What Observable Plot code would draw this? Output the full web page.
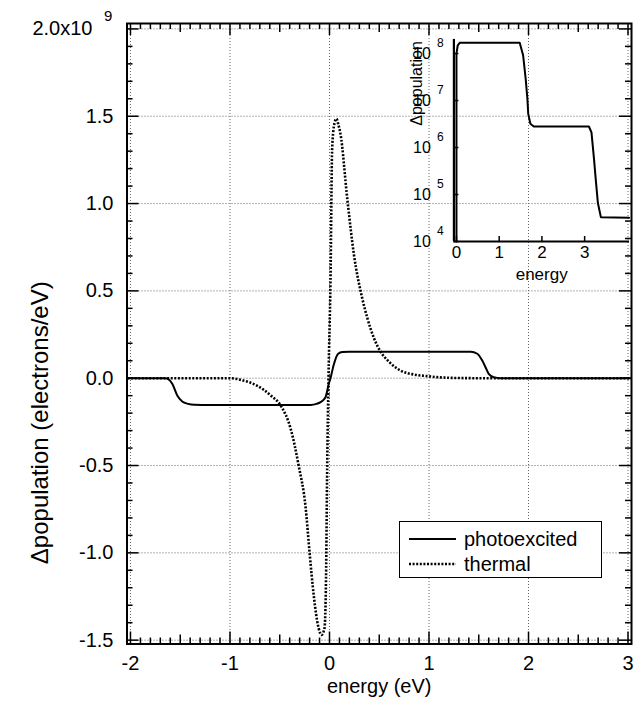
<!DOCTYPE html>
<html>
<head>
<meta charset="utf-8">
<script src="https://cdn.jsdelivr.net/npm/d3@7"></script>
<script src="https://cdn.jsdelivr.net/npm/@observablehq/plot@0.6"></script>
<style>
  html, body { margin: 0; padding: 0; background: #fff; }
  #wrap { position: relative; width: 634px; height: 712px; overflow: hidden; font-family: "Liberation Sans", Arial, Helvetica, sans-serif; }
  #inset { position: absolute; left: 380px; top: 30px; }
  #legend { position: absolute; left: 399px; top: 521px; width: 203px; height: 57px; border: 1.3px solid #000; background: #fff; box-sizing: border-box; }
  #legend svg { position: absolute; left: 0; top: 0; }
</style>
</head>
<body>
<div id="wrap">
  <div id="main"></div>
  <div id="inset"></div>
  <div id="legend"></div>
</div>
<script>
// ---- main chart data ----
const photoEnergy = [-2.03, -1.65, -1.62, -1.58, -1.53, -1.48, -1.42, -1.36, -1.2, -0.19, -0.13, -0.09, -0.04, -0.007, 0.01, 0.045, 0.085, 0.13, 0.2, 1.42, 1.485, 1.535, 1.568, 1.60, 1.65, 1.72, 3.03];
const photoValue  = [0, 0, -0.005, -0.032, -0.099, -0.133, -0.147, -0.152, -0.153, -0.153, -0.147, -0.137, -0.109, -0.032, 0, 0.082, 0.139, 0.150, 0.151, 0.151, 0.14, 0.101, 0.063, 0.025, 0.006, 0, 0];

const thermalEnergy = [-2.03, -1.0, -0.87, -0.73, -0.59, -0.49, -0.39, -0.31, -0.24, -0.20, -0.16, -0.11, -0.08, -0.05, -0.035, -0.023, -0.01, 0.01, 0.027, 0.05, 0.07, 0.09, 0.11, 0.18, 0.245, 0.33, 0.38, 0.45, 0.50, 0.61, 0.71, 0.85, 0.98, 1.08, 1.3, 1.5, 3.03];
const thermalValue  = [0, 0, -0.013, -0.042, -0.099, -0.157, -0.29, -0.5, -0.74, -1.0, -1.235, -1.43, -1.47, -1.43, -1.15, -0.5, 0.0, 0.56, 1.32, 1.46, 1.486, 1.45, 1.40, 1.02, 0.71, 0.455, 0.345, 0.225, 0.165, 0.088, 0.045, 0.021, 0.012, 0.006, 0.001, 0, 0];

// ---- inset data ----
const insetEnergy = [0.0, 0.0, 0.03, 0.08, 1.48, 1.56, 1.62, 1.66, 1.68, 1.73, 1.81, 3.10, 3.16, 3.22, 3.26, 3.31, 3.38, 4.04];
const insetValue  = [1e4, 1.0e8, 1.5e8, 1.7e8, 1.7e8, 9.2e7, 2.9e7, 1.1e7, 5.2e6, 3.2e6, 2.8e6, 2.8e6, 2.1e6, 5.6e5, 2.1e5, 6.6e4, 3.3e4, 3.2e4];

// ---- ticks / labels ----
const xMajor = [-2, -1, 0, 1, 2, 3];
const xHalf = [-1.5, -0.5, 0.5, 1.5, 2.5];
const yMajor = [-1.5, -1, -0.5, 0, 0.5, 1, 1.5, 2];
const yLabelTicks = [-1.5, -1, -0.5, 0, 0.5, 1, 1.5];
const insetXTicks = [0, 1, 2, 3];
const insetYTicks = [1e4, 1e5, 1e6, 1e7, 1e8];
const insetYExp = ["4", "5", "6", "7", "8"];
const seriesNames = ["photoexcited", "thermal"];

const xDomain = [-2.035, 3.035];
const yDomain = [-1.522, 2.031];

const W = 634, H = 712, mL = 126.5, mR = 3, mT = 23, mB = 68.5;
const innerW = W - mL - mR, innerH = H - mT - mB;

const xMinor = d3.range(-20, 31).map(i => i / 10).filter(v => !xMajor.includes(v) && !xHalf.includes(v));
const yMinor = d3.range(-15, 21).map(i => i / 10).filter(v => !yMajor.some(m => Math.abs(m - v) < 1e-9));

const photo = photoEnergy.map((e, i) => ({e, v: photoValue[i]}));
const thermal = thermalEnergy.map((e, i) => ({e, v: thermalValue[i]}));
const inset = insetEnergy.map((e, i) => ({e, v: insetValue[i]}));

const font = '"Liberation Sans", Arial, Helvetica, sans-serif';
const grid = {stroke: "#666", strokeOpacity: 1, strokeDasharray: "1,2", strokeWidth: 1};
const dotted = {strokeWidth: 2.6, strokeDasharray: "2,1.6", strokeLinecap: "butt"};

function ticksX(vals, len) {
  return [
    Plot.tickX(vals, {x: d => d, insetTop: innerH - len, stroke: "#000", strokeWidth: 1.5}),
    Plot.tickX(vals, {x: d => d, insetBottom: innerH - len, stroke: "#000", strokeWidth: 1.5})
  ];
}
function ticksY(vals, len) {
  return [
    Plot.tickY(vals, {y: d => d, insetRight: innerW - len, stroke: "#000", strokeWidth: 1.5}),
    Plot.tickY(vals, {y: d => d, insetLeft: innerW - len, stroke: "#000", strokeWidth: 1.5})
  ];
}

const main = Plot.plot({
  width: W, height: H,
  marginLeft: mL, marginRight: mR, marginTop: mT, marginBottom: mB,
  style: {fontFamily: font, fontSize: "20px", background: "transparent", color: "#000"},
  x: {domain: xDomain, axis: null},
  y: {domain: yDomain, axis: null},
  marks: [
    Plot.gridX(xMajor, grid),
    Plot.gridY(yMajor, grid),
    ...ticksX(xMinor, 6), ...ticksX(xHalf, 9), ...ticksX(xMajor, 12),
    ...ticksY(yMinor, 6), ...ticksY(yMajor, 12),
    Plot.line(photo, {x: "e", y: "v", stroke: "#000", strokeWidth: 2, curve: "monotone-x"}),
    Plot.line(thermal, {x: "e", y: "v", stroke: "#000", ...dotted, curve: "monotone-x"}),
    Plot.frame({stroke: "#000", strokeWidth: 2}),
    Plot.axisX(xMajor, {tickSize: 0, tickPadding: 12, tickFormat: d => String(d), label: null, fontSize: 20}),
    Plot.axisY(yLabelTicks, {tickSize: 0, tickPadding: 13.5, tickFormat: d => d.toFixed(1), label: null, fontSize: 20}),
    Plot.text([2], {y: d => d, frameAnchor: "left", text: () => "2.0x10", textAnchor: "end", dx: -34.5, fontSize: 20}),
    Plot.text([2], {y: d => d, frameAnchor: "left", text: () => "9", textAnchor: "start", dx: -23, dy: -13, fontSize: 15}),
    Plot.text(["energy (eV)"], {frameAnchor: "bottom", dy: 49, fontSize: 20}),
    Plot.text(["\u0394population (electrons/eV)"], {frameAnchor: "left", textAnchor: "middle", rotate: -90, dx: -87, dy: 89, fontSize: 24})
  ]
});
document.getElementById("main").appendChild(main);

// ---- inset ----
const iW = 254, iH = 260, imL = 73.4, imR = 5, imT = 8.9, imB = 49;
const iInnerH = iH - imT - imB, iInnerW = iW - imL - imR;
const insetXDomain = [-0.06, 4.05];
const insetYDomain = [1e4, 2e8];
const insetPlot = Plot.plot({
  width: iW, height: iH,
  marginLeft: imL, marginRight: imR, marginTop: imT, marginBottom: imB,
  style: {fontFamily: font, fontSize: "16px", background: "transparent", color: "#000", overflow: "visible"},
  x: {domain: insetXDomain, axis: null},
  y: {type: "log", domain: insetYDomain, axis: null},
  marks: [
    Plot.tickX(insetXTicks, {x: d => d, insetTop: iInnerH - 5, stroke: "#000", strokeWidth: 1.5}),
    Plot.tickY(insetYTicks, {y: d => d, insetRight: iInnerW - 5, stroke: "#000", strokeWidth: 1.5}),
    Plot.ruleY([insetYDomain[0]], {stroke: "#000", strokeWidth: 2.2}),
    Plot.ruleX([insetXDomain[0]], {stroke: "#000", strokeWidth: 2.2}),
    Plot.line(inset, {x: "e", y: "v", stroke: "#000", strokeWidth: 2}),
    Plot.axisX(insetXTicks, {tickSize: 0, tickPadding: 4, tickFormat: d => String(d), label: null, fontSize: 17}),
    Plot.text(insetYTicks, {y: d => d, frameAnchor: "left", text: () => "10", textAnchor: "end", dx: -23, fontSize: 16}),
    Plot.text(insetYTicks, {y: d => d, frameAnchor: "left", text: (d, i) => insetYExp[i], textAnchor: "start", dx: -17, dy: -10, fontSize: 12}),
    Plot.text(["energy"], {frameAnchor: "bottom", dy: 38, fontSize: 17}),
    Plot.text(["\u0394population"], {frameAnchor: "left", textAnchor: "middle", rotate: -90, dx: -37, dy: -57, fontSize: 16})
  ]
});
document.getElementById("inset").appendChild(insetPlot);

// ---- legend ----
const lg = d3.select("#legend").append("svg").attr("width", 203).attr("height", 57);
seriesNames.forEach((name, i) => {
  const y = 17 + i * 25;
  lg.append("line").attr("x1", 9).attr("x2", 56).attr("y1", y).attr("y2", y)
    .attr("stroke", "#000").attr("stroke-width", i === 0 ? 2 : dotted.strokeWidth)
    .attr("stroke-dasharray", i === 0 ? null : dotted.strokeDasharray)
    .attr("stroke-linecap", "butt");
  lg.append("text").attr("x", 64).attr("y", y).attr("dy", "0.35em")
    .attr("font-family", font).attr("font-size", 20).text(name);
});
</script>
</body>
</html>
